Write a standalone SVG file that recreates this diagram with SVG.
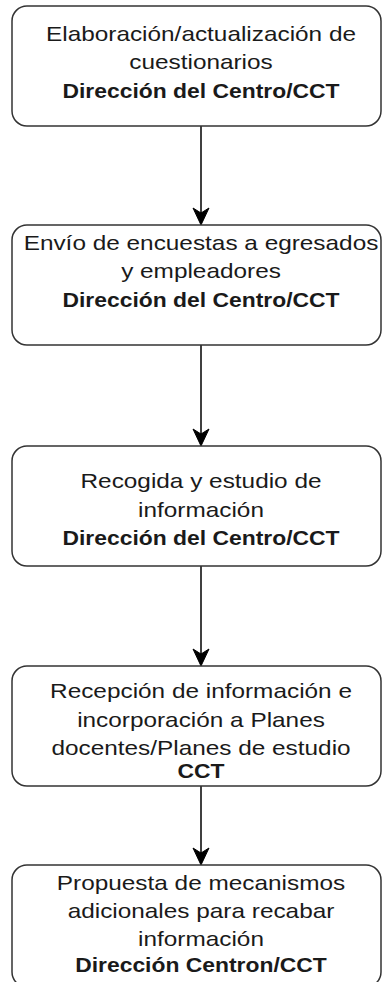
<svg xmlns="http://www.w3.org/2000/svg" width="382" height="982" viewBox="0 0 382 982">
<style>
.box{fill:#fff;stroke:#333;stroke-width:1.5}
.t{font-family:"Liberation Sans",Arial,sans-serif;font-size:21px;fill:#1a1a1a;text-anchor:middle}
.b{font-weight:bold}
.edge{stroke:#000;stroke-width:1.5;fill:none}
.head{fill:#000;stroke:#000;stroke-width:1}
</style>
<defs>
<path id="ah" d="M0,0 L-8,-17 L0,-12 L8,-17 Z"/>
</defs>
<rect width="382" height="982" fill="#fff"/>
<g id="connectors">
<line class="edge" x1="201" y1="126" x2="201" y2="215"/>
<use href="#ah" class="head" x="201" y="225"/>
<line class="edge" x1="201" y1="345" x2="201" y2="436"/>
<use href="#ah" class="head" x="201" y="446"/>
<line class="edge" x1="201" y1="566" x2="201" y2="656"/>
<use href="#ah" class="head" x="201" y="666"/>
<line class="edge" x1="201" y1="786" x2="201" y2="855"/>
<use href="#ah" class="head" x="201" y="865"/>
</g>
<g id="n1">
<rect class="box" x="12" y="6" width="369" height="120" rx="15"/>
<text class="t" transform="translate(201,41) scale(1.16,1)">Elaboración/actualización de</text>
<text class="t" transform="translate(201,69) scale(1.16,1)">cuestionarios</text>
<text class="t b" transform="translate(201,98) scale(1.09,1)">Dirección del Centro/CCT</text>
</g>
<g id="n2">
<rect class="box" x="12" y="225" width="369" height="120" rx="15"/>
<text class="t" transform="translate(201,250) scale(1.16,1)">Envío de encuestas a egresados</text>
<text class="t" transform="translate(201,278) scale(1.16,1)">y empleadores</text>
<text class="t b" transform="translate(201,307) scale(1.09,1)">Dirección del Centro/CCT</text>
</g>
<g id="n3">
<rect class="box" x="12" y="446" width="369" height="120" rx="15"/>
<text class="t" transform="translate(201,488) scale(1.16,1)">Recogida y estudio de</text>
<text class="t" transform="translate(201,517) scale(1.16,1)">información</text>
<text class="t b" transform="translate(201,545) scale(1.09,1)">Dirección del Centro/CCT</text>
</g>
<g id="n4">
<rect class="box" x="12" y="666" width="369" height="120" rx="15"/>
<text class="t" transform="translate(201,698) scale(1.16,1)">Recepción de información e</text>
<text class="t" transform="translate(201,727) scale(1.16,1)">incorporación a Planes</text>
<text class="t" transform="translate(201,755) scale(1.16,1)">docentes/Planes de estudio</text>
<text class="t b" transform="translate(201,778) scale(1.09,1)">CCT</text>
</g>
<g id="n5">
<rect class="box" x="12" y="865" width="369" height="122" rx="15"/>
<text class="t" transform="translate(201,890) scale(1.16,1)">Propuesta de mecanismos</text>
<text class="t" transform="translate(201,918) scale(1.16,1)">adicionales para recabar</text>
<text class="t" transform="translate(201,946) scale(1.16,1)">información</text>
<text class="t b" transform="translate(201,972) scale(1.09,1)">Dirección Centron/CCT</text>
</g>
</svg>
